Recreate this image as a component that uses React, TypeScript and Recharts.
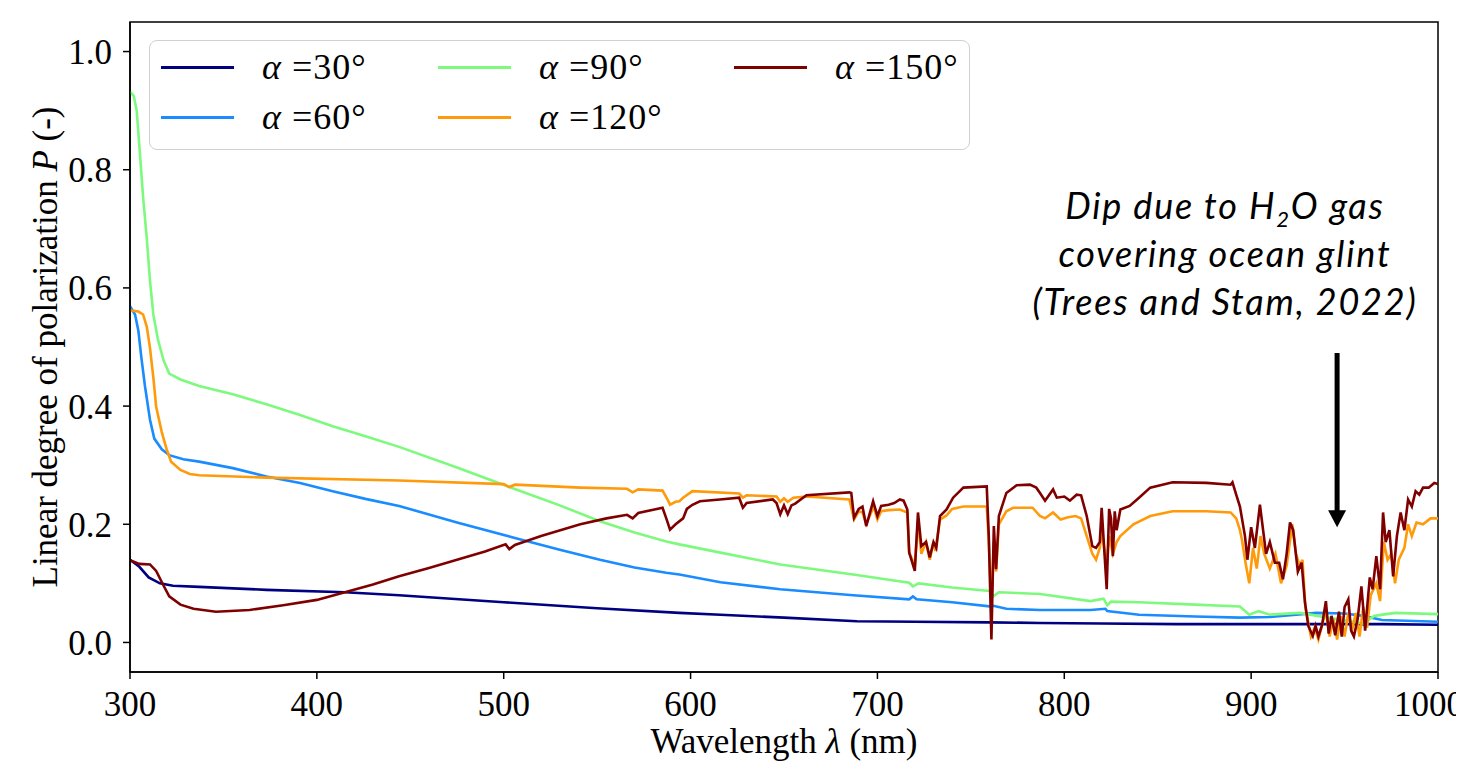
import React from 'react';
import { LineChart, Line, XAxis, YAxis, ReferenceArea, ReferenceLine, ReferenceDot } from 'recharts';

// ---------- data ----------
const xTicks = [300, 400, 500, 600, 700, 800, 900, 1000];
const yTicks = [0, 0.2, 0.4, 0.6, 0.8, 1.0];

const wl30 = [300, 305, 310, 316, 323, 337, 373, 415, 444, 500, 550, 594, 616, 650, 689, 720, 760, 787, 820, 860, 900, 940, 970, 1000];
const p30 = [0.14, 0.128, 0.11, 0.1, 0.096, 0.094, 0.089, 0.085, 0.08, 0.068, 0.058, 0.05, 0.047, 0.042, 0.036, 0.035, 0.034, 0.033, 0.032, 0.031, 0.031, 0.031, 0.031, 0.03];

const wl60 = [300, 302.7, 304.5, 306, 308, 310.7, 313, 317, 321, 328.5, 337, 355, 373, 391, 408.5, 426, 444, 475, 507, 530, 551.5, 570, 587, 594, 616, 648, 687, 717, 719, 721, 740, 760, 762, 769, 787, 814, 822, 823, 840, 870, 894, 910, 935, 950, 960, 970, 1000];
const p60 = [0.569, 0.555, 0.527, 0.484, 0.434, 0.377, 0.345, 0.327, 0.317, 0.31, 0.306, 0.295, 0.281, 0.27, 0.256, 0.243, 0.231, 0.203, 0.176, 0.157, 0.14, 0.127, 0.118, 0.115, 0.102, 0.09, 0.08, 0.073, 0.078, 0.073, 0.068, 0.061, 0.062, 0.057, 0.055, 0.055, 0.057, 0.053, 0.047, 0.044, 0.042, 0.043, 0.05, 0.049, 0.045, 0.038, 0.035];

const wl90 = [300, 302, 303.6, 305, 307, 309, 310.7, 312.5, 315, 318, 321, 327, 337, 355, 373, 391, 408.5, 426, 444, 475, 503, 530, 551.5, 570, 587, 594, 616, 648, 687, 717, 719, 722, 740, 760, 762, 765, 787, 814, 821, 823, 825, 840, 870, 894, 899, 904, 910, 926, 941, 960, 966, 977, 1000];
const p90 = [0.932, 0.925, 0.9, 0.84, 0.754, 0.683, 0.612, 0.555, 0.512, 0.477, 0.455, 0.445, 0.434, 0.42, 0.403, 0.385, 0.366, 0.349, 0.331, 0.296, 0.263, 0.232, 0.205, 0.186, 0.171, 0.166, 0.152, 0.132, 0.115, 0.101, 0.095, 0.1, 0.093, 0.087, 0.078, 0.085, 0.082, 0.07, 0.074, 0.063, 0.069, 0.068, 0.064, 0.061, 0.047, 0.053, 0.047, 0.05, 0.042, 0.032, 0.045, 0.05, 0.048];

const wl120 = [300, 304.5, 307, 309, 310.7, 312.5, 314, 317, 319.6, 322, 327, 332, 337, 373, 444, 500, 503, 506, 541, 566, 569, 572, 585, 588, 589, 592, 594, 596, 601, 626, 628, 630, 646, 648, 650, 652, 655, 662, 685, 687.5, 690, 692, 694, 698, 700, 702, 706, 712, 716, 717, 720, 721.7, 723.5, 726, 728, 730, 731, 733.5, 737, 740, 746, 758.5, 759.6, 761, 762.3, 763.5, 765, 769, 772.6, 783, 787, 789.7, 794, 798, 802, 806, 809, 812, 815, 817, 819, 820, 822.7, 824, 826, 828, 830, 837, 846, 858, 876, 889, 892, 894, 895, 897, 899, 901, 903, 905, 907, 910, 913, 916, 919, 922, 924, 926, 927.5, 929, 932, 934, 936, 938, 940, 942, 944, 946, 948, 950, 952, 954, 956, 958, 960, 962, 964, 967, 969, 971, 973, 975, 977, 979, 982, 984, 986, 988.5, 992, 996, 1000];
const p120 = [0.562, 0.56, 0.555, 0.534, 0.498, 0.448, 0.399, 0.356, 0.327, 0.306, 0.292, 0.285, 0.283, 0.279, 0.274, 0.268, 0.263, 0.267, 0.262, 0.26, 0.254, 0.259, 0.257, 0.24, 0.233, 0.238, 0.239, 0.245, 0.256, 0.252, 0.245, 0.249, 0.247, 0.238, 0.244, 0.238, 0.245, 0.247, 0.242, 0.208, 0.222, 0.22, 0.2, 0.23, 0.208, 0.222, 0.224, 0.225, 0.22, 0.152, 0.13, 0.205, 0.15, 0.17, 0.14, 0.17, 0.155, 0.208, 0.215, 0.226, 0.23, 0.23, 0.17, 0.06, 0.17, 0.12, 0.2, 0.222, 0.228, 0.228, 0.214, 0.21, 0.22, 0.208, 0.212, 0.214, 0.21, 0.18, 0.15, 0.14, 0.16, 0.19, 0.13, 0.18, 0.15, 0.17, 0.18, 0.2, 0.214, 0.222, 0.222, 0.22, 0.21, 0.19, 0.175, 0.135, 0.1, 0.16, 0.125, 0.18, 0.15, 0.125, 0.15, 0.1, 0.13, 0.2, 0.15, 0.13, 0.14, 0.06, 0.01, 0.025, 0.005, 0.03, 0.055, 0.01, 0.04, 0.005, 0.045, 0.01, 0.05, 0.02, 0.05, 0.01, 0.06, 0.025, 0.08, 0.1, 0.07, 0.17, 0.14, 0.15, 0.1, 0.14, 0.16, 0.2, 0.18, 0.203, 0.2, 0.21, 0.21];

const wl150 = [300, 305, 310.7, 314, 318, 321, 327, 334, 346, 364, 382, 400, 415, 430, 444, 460, 475, 490, 501, 503, 506, 520, 541, 555, 566, 569, 572, 585, 587, 589, 592, 596, 598, 601, 605, 615.7, 626, 628, 630, 644, 646, 648, 650, 652, 654, 656, 662, 685, 686, 687.5, 690, 692, 694, 697.7, 700, 702, 706, 709, 712, 714, 716, 717, 720, 721.7, 723.5, 726, 728, 730, 731.5, 733.5, 737, 740.5, 746, 758.5, 759.6, 761, 762.3, 763.5, 765, 769, 774.5, 781.6, 785, 787, 789.7, 794, 796, 800, 803, 806.6, 809, 812, 815, 817, 819, 820, 822.7, 824, 825, 826, 827, 828, 830, 835, 840, 846, 858, 876, 889, 890, 892, 894, 896.7, 898, 900, 902, 904.7, 906, 908, 910, 912.7, 915, 917, 919, 920.8, 922.5, 925, 927, 928.8, 930.6, 933, 934.5, 936, 938, 940, 941.5, 943, 945, 947, 948.5, 950, 952, 953.5, 955, 957, 959, 961, 963.5, 965, 967, 969, 970.6, 972, 974, 976, 978, 980, 982, 984, 986, 988, 990, 992, 995, 998, 1000];
const p150 = [0.139, 0.133, 0.132, 0.121, 0.096, 0.078, 0.064, 0.057, 0.052, 0.055, 0.063, 0.072, 0.085, 0.098, 0.112, 0.126, 0.14, 0.154, 0.166, 0.158, 0.165, 0.18, 0.2, 0.21, 0.216, 0.21, 0.219, 0.228, 0.21, 0.191, 0.2, 0.21, 0.226, 0.233, 0.239, 0.242, 0.245, 0.228, 0.236, 0.242, 0.236, 0.217, 0.232, 0.217, 0.232, 0.235, 0.249, 0.254, 0.253, 0.211, 0.226, 0.23, 0.197, 0.239, 0.214, 0.231, 0.233, 0.236, 0.242, 0.24, 0.225, 0.152, 0.121, 0.22, 0.163, 0.17, 0.144, 0.17, 0.16, 0.214, 0.225, 0.245, 0.262, 0.264, 0.18, 0.005, 0.197, 0.124, 0.214, 0.253, 0.266, 0.267, 0.262, 0.253, 0.24, 0.259, 0.245, 0.247, 0.24, 0.25, 0.249, 0.214, 0.163, 0.16, 0.17, 0.228, 0.09, 0.226, 0.21, 0.146, 0.222, 0.19, 0.225, 0.231, 0.245, 0.262, 0.271, 0.27, 0.267, 0.271, 0.25, 0.23, 0.18, 0.14, 0.195, 0.16, 0.233, 0.2, 0.15, 0.17, 0.135, 0.135, 0.107, 0.15, 0.203, 0.19, 0.12, 0.135, 0.068, 0.028, 0.011, 0.028, 0.01, 0.03, 0.07, 0.015, 0.045, 0.012, 0.052, 0.01, 0.06, 0.073, 0.02, 0.01, 0.04, 0.095, 0.02, 0.11, 0.09, 0.146, 0.09, 0.22, 0.17, 0.19, 0.112, 0.18, 0.22, 0.19, 0.242, 0.23, 0.256, 0.25, 0.262, 0.262, 0.27, 0.268];

const angles = ['30', '60', '90', '120', '150'];
const colors = ['#000080', '#1a8cff', '#7dfa7d', '#ff9a0a', '#800000'];

const toData = (wl: number[], p: number[]) => wl.map((w, i) => ({ wl: w, p: p[i] }));
const seriesData = [toData(wl30, p30), toData(wl60, p60), toData(wl90, p90), toData(wl120, p120), toData(wl150, p150)];

const arrowX = 946;
const arrowTop = 0.49;
const arrowHeadBase = 0.222;
const arrowTip = 0.195;

// ---------- styling ----------
const serif = '"Liberation Serif", "Times New Roman", serif';
const FS = 35;

const XLabel = (props: any) => {
  const vb = props.viewBox || { x: 122, y: 664, width: 1308, height: 101 };
  return (
    <text x={vb.x + vb.width / 2} y={vb.y + 69} textAnchor="middle" dominantBaseline="central"
      style={{ fontFamily: serif, fontSize: FS, fill: '#000' }}>
      Wavelength <tspan fontStyle="italic">λ</tspan> (nm)
    </text>
  );
};

const YLabel = (props: any) => {
  const vb = props.viewBox || { x: 0, y: 14, width: 122, height: 650 };
  const cx = 37;
  const cy = vb.y + vb.height / 2;
  return (
    <text x={cx} y={cy} transform={`rotate(-90, ${cx}, ${cy})`} textAnchor="middle" dominantBaseline="central"
      style={{ fontFamily: serif, fontSize: FS, fill: '#000' }}>
      Linear degree of polarization <tspan fontStyle="italic">P</tspan> (-)
    </text>
  );
};

const ArrowHead = (props: any) => {
  const { cx, cy } = props;
  if (cx == null || cy == null) return null;
  return <polygon points={`${cx},${cy} ${cx - 9},${cy - 17} ${cx + 9},${cy - 17}`} fill="#000" />;
};

const legendPos = [
  { hx: 11, tx: 112, cy: 26 },
  { hx: 11, tx: 112, cy: 76 },
  { hx: 288, tx: 389, cy: 26 },
  { hx: 288, tx: 389, cy: 76 },
  { hx: 584, tx: 685, cy: 26 },
];

export default function App() {
  return (
    <div style={{ position: 'relative', width: 1456, height: 765 }}>
      <LineChart width={1456} height={765} margin={{ top: 14, right: 26, bottom: 0, left: 0 }}>
        <XAxis dataKey="wl" type="number" domain={[300, 1000]} ticks={xTicks} allowDataOverflow
          height={101} tickSize={7} tickMargin={12} stroke="#000" strokeWidth={1.5}
          tick={{ fill: '#000', fontSize: FS, fontFamily: serif }} label={<XLabel />} />
        <YAxis type="number" domain={[-0.05, 1.05]} ticks={yTicks} allowDataOverflow
          width={122} tickSize={7} tickMargin={11} stroke="#000" strokeWidth={1.5}
          tickFormatter={(v: number) => v.toFixed(1)}
          tick={{ fill: '#000', fontSize: FS, fontFamily: serif }} label={<YLabel />} />
        <ReferenceArea x1={300} x2={1000} y1={-0.05} y2={1.05} fill="none" stroke="#000" strokeWidth={1.5} fillOpacity={0} />
        {seriesData.map((d, i) => (
          <Line key={angles[i]} data={d} dataKey="p" type="linear" stroke={colors[i]} strokeWidth={2.6}
            dot={false} activeDot={false} isAnimationActive={false} />
        ))}
        <ReferenceLine segment={[{ x: arrowX, y: arrowTop }, { x: arrowX, y: arrowHeadBase }]} stroke="#000" strokeWidth={5} />
        <ReferenceDot x={arrowX} y={arrowTip} r={1} shape={<ArrowHead />} />
      </LineChart>

      {/* legend */}
      <div style={{
        position: 'absolute', left: 141, top: 32, width: 821, height: 110, boxSizing: 'border-box',
        border: '1.5px solid #d0d0d0', borderRadius: 8, background: 'rgba(255,255,255,0.85)',
      }}>
        {angles.map((a, i) => (
          <React.Fragment key={a}>
            <div style={{ position: 'absolute', left: legendPos[i].hx, top: legendPos[i].cy - 1.5, width: 73, height: 3, background: colors[i] }} />
            <div style={{ position: 'absolute', left: legendPos[i].tx, top: legendPos[i].cy - 22, height: 44, lineHeight: '44px', fontFamily: serif, fontSize: 36, letterSpacing: 1, color: '#000', whiteSpace: 'nowrap' }}>
              <span style={{ fontStyle: 'italic' }}>α</span> ={a}°
            </div>
          </React.Fragment>
        ))}
      </div>

      {/* annotation */}
      <div style={{
        position: 'absolute', left: 967, top: 173, width: 500, textAlign: 'center',
        fontFamily: 'Lato, "Open Sans", sans-serif', fontStyle: 'italic', fontSize: 36, lineHeight: '48px',
        letterSpacing: 1.8, color: '#000',
      }}>
        <div>Dip due to H<sub style={{ fontSize: 22, lineHeight: 0 }}>2</sub>O gas</div>
        <div>covering ocean glint</div>
        <div>(Trees and Stam, 2022)</div>
      </div>
    </div>
  );
}
